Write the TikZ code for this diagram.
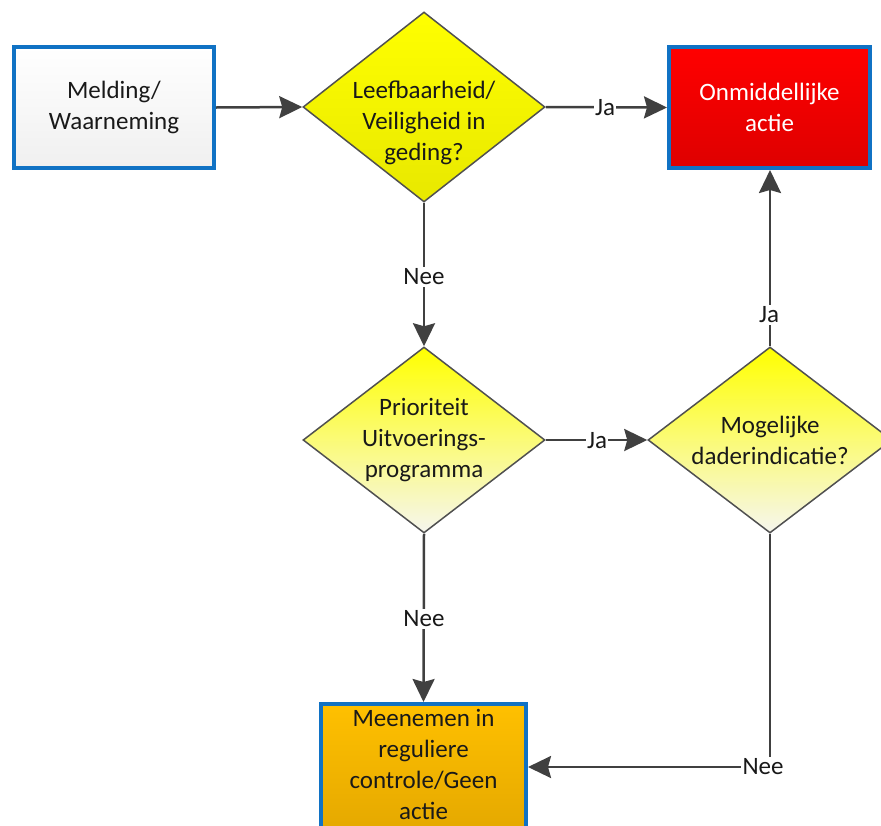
\documentclass[tikz,border=0pt]{standalone}
\usepackage{fontspec}
\setmainfont{Carlito}
\usetikzlibrary{shapes.geometric,arrows.meta}
\definecolor{boxblue}{RGB}{16,114,196}
\definecolor{conncol}{RGB}{64,64,64}
\definecolor{txtcol}{RGB}{25,25,25}
\definecolor{dkout}{RGB}{80,80,80}
\tikzset{
  every node/.style={font=\fontsize{25}{31}\selectfont, text=txtcol},
  procbox/.style={rectangle, draw=boxblue, line width=4pt, align=center, inner sep=0pt},
  decision/.style={diamond, draw=dkout, line width=1.5pt, inner sep=0pt},
  dtext/.style={align=center, inner sep=0pt},
  conn/.style={draw=conncol, line width=2.5pt, -{Stealth[length=23pt,width=22pt,inset=3pt]}},
  lbl/.style={fill=white, inner sep=1.5pt}
}
\begin{document}
\begin{tikzpicture}[x=1pt,y=-1pt]
\useasboundingbox (0,0) rectangle (881,825);
\clip (0,0) rectangle (881,825);
% boxes
\node[procbox, minimum width=200pt, minimum height=121pt, top color=white, bottom color=black!6]
  (meld) at (114,107.5) {Melding/\\Waarneming};
\node[procbox, minimum width=201pt, minimum height=121pt, top color={rgb,255:red,255;green,0;blue,0}, bottom color={rgb,255:red,222;green,0;blue,0}, text=white]
  (onm) at (769.5,107.5) {Onmiddellijke\\actie};
\node[procbox, minimum width=205pt, minimum height=130pt, top color={rgb,255:red,255;green,192;blue,0}, bottom color={rgb,255:red,228;green,168;blue,0}]
  (mee) at (423.5,769) {};
\node[dtext] (meet) at (423.5,764) {Meenemen in\\reguliere\\controle/Geen\\actie};
% decisions
\node[decision, minimum width=242pt, minimum height=190pt, top color={rgb,255:red,255;green,255;blue,0}, bottom color={rgb,255:red,232;green,232;blue,0}]
  (d1) at (424,107) {};
\node[dtext] (d1t) at (424,123) {Leefbaarheid/\\Veiligheid in\\geding?};
\node[decision, minimum width=242pt, minimum height=186pt, top color={rgb,255:red,255;green,255;blue,0}, bottom color={rgb,255:red,246;green,246;blue,238}]
  (d2) at (424,440) {};
\node[dtext] (d2t) at (424,440) {Prioriteit\\Uitvoerings-\\programma};
\node[decision, minimum width=244pt, minimum height=186pt, top color={rgb,255:red,255;green,255;blue,0}, bottom color={rgb,255:red,246;green,246;blue,238}]
  (d3) at (770,440) {};
\node[dtext] (d3t) at (770,440) {Mogelijke\\daderindicatie?};
% connectors
\draw[conn] (meld.east) -- (d1.west);
\draw[conn] (d1.east) -- (onm.west);
\node[lbl] (ja1) at (605,108) {Ja};
\draw[conn] (d1.south) -- (d2.north);
\node[lbl] (nee1) at (424,277) {Nee};
\draw[conn] (d2.east) -- (d3.west);
\node[lbl] (ja2) at (597,441) {Ja};
\draw[conn] (d3.north) -- (d3.north |- onm.south);
\node[lbl] (ja3) at (769,315) {Ja};
\draw[conn] (d2.south) -- (mee.north);
\node[lbl] (nee2) at (424,619) {Nee};
\coordinate (corner) at (770,767);
\draw[conn] (d3.south) -- (corner) -- (corner -| mee.east);
\node[lbl] (nee3) at (763,767) {Nee};
\end{tikzpicture}
\end{document}
